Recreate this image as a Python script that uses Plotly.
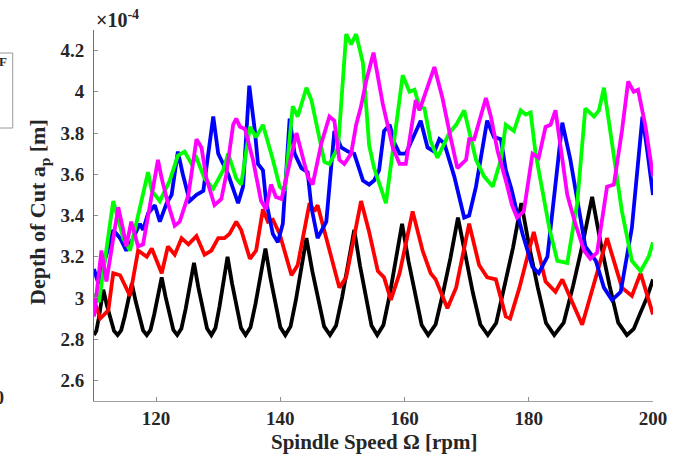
import plotly.graph_objects as go

# Values; y in units of 1e-4 m
black_x = [110.0, 110.375, 110.75, 111.125, 111.5, 112.075, 112.65, 113.225, 113.8,
           114.375, 114.95, 115.525, 116.1, 116.7, 117.3, 117.9, 118.5,
           119.1, 119.7, 120.3, 120.9, 121.525, 122.15, 122.775, 123.4,
           124.075, 124.75, 125.425, 126.1, 126.8, 127.5, 128.2, 128.9,
           129.55, 130.2, 130.85, 131.5, 132.225, 132.95, 133.675, 134.4,
           135.2, 136.0, 136.8, 137.6, 138.4, 139.2, 140.0, 140.8,
           141.65, 142.5, 143.35, 144.2, 145.15, 146.1, 147.05, 148.0,
           148.975, 149.95, 150.925, 151.9, 152.825, 153.75, 154.675, 155.6,
           156.6, 157.6, 158.6, 159.6, 160.65, 161.7, 162.75, 163.8,
           165.0, 166.2, 167.4, 168.6, 169.8, 171.0, 172.2, 173.4,
           174.75, 176.1, 177.45, 178.8, 180.125, 181.45, 182.775, 184.1,
           185.625, 187.15, 188.675, 190.2, 191.6, 193.0, 194.4, 195.8,
           196.9, 198.0, 199.0, 200.0]
black_y = [2.82, 2.840, 2.899, 2.965, 3.04, 2.965, 2.899, 2.840, 2.82,
           2.843, 2.910, 2.985, 3.07, 2.985, 2.910, 2.843, 2.82,
           2.845, 2.921, 3.005, 3.10, 3.005, 2.921, 2.845, 2.82,
           2.852, 2.946, 3.051, 3.17, 3.051, 2.946, 2.852, 2.82,
           2.854, 2.957, 3.071, 3.20, 3.071, 2.957, 2.854, 2.82,
           2.858, 2.971, 3.097, 3.24, 3.097, 2.971, 2.858, 2.82,
           2.862, 2.989, 3.130, 3.29, 3.130, 2.989, 2.862, 2.82,
           2.866, 3.004, 3.157, 3.33, 3.157, 3.004, 2.866, 2.82,
           2.869, 3.014, 3.176, 3.36, 3.176, 3.014, 2.869, 2.82,
           2.871, 3.025, 3.196, 3.39, 3.196, 3.025, 2.871, 2.82,
           2.878, 3.050, 3.242, 3.46, 3.242, 3.050, 2.878, 2.82,
           2.880, 3.061, 3.262, 3.49, 3.262, 3.061, 2.880, 2.82,
           2.850, 2.930, 3.000, 3.09]

red_x = [110.0, 111.0, 112.3, 113.1, 114.2, 115.8, 117.1, 118.5, 119.3, 120.9,
         121.9, 123.0, 124.1, 125.2, 126.5, 127.8, 128.9, 130.0, 131.0, 131.8,
         132.9, 133.7, 135.1, 136.1, 137.2, 138.0, 138.8, 139.9, 141.8, 142.8,
         144.7, 145.5, 146.0, 147.4, 149.5, 150.6, 153.0, 154.3, 155.7, 156.7,
         157.8, 159.2, 161.3, 162.9, 164.2, 165.0, 166.9, 168.3, 170.4, 172.0,
         173.3, 174.7, 176.3, 177.0, 178.5, 180.8, 182.7, 184.3, 185.4, 188.6,
         192.6, 195.0, 196.6, 198.0, 200.0]
red_y = [2.99, 2.90, 2.94, 3.12, 3.11, 3.01, 3.23, 3.20, 3.24, 3.12,
         3.25, 3.21, 3.29, 3.26, 3.30, 3.21, 3.23, 3.29, 3.29, 3.31,
         3.37, 3.33, 3.19, 3.23, 3.43, 3.37, 3.38, 3.31, 3.11, 3.16,
         3.46, 3.42, 3.45, 3.29, 3.05, 3.10, 3.47, 3.32, 3.13, 3.10,
         2.99, 3.12, 3.42, 3.23, 3.12, 3.09, 2.95, 3.05, 3.36, 3.16,
         3.10, 3.09, 2.91, 2.90, 3.05, 3.32, 3.08, 3.03, 3.09, 2.87,
         3.29, 3.05, 3.01, 3.12, 2.92]

blue_x = [110.0, 110.7, 113.1, 114.2, 115.2, 116.3, 117.4, 117.9, 118.7, 119.8,
          120.6, 121.7, 122.5, 123.5, 124.3, 125.4, 126.5, 127.6, 129.2, 130.0,
          130.8, 131.6, 133.2, 134.0, 135.0, 135.9, 136.4, 137.2, 137.7, 138.8,
          139.6, 140.4, 141.5, 142.3, 143.4, 144.4, 145.0, 146.0, 147.4, 148.7,
          149.8, 150.9, 151.9, 153.3, 154.3, 155.1, 155.9, 156.7, 157.6, 158.4,
          159.2, 160.2, 162.6, 163.7, 164.8, 165.6, 166.4, 168.0, 169.6, 170.4,
          171.5, 173.3, 174.4, 175.5, 176.3, 177.2, 177.9, 179.0, 180.6, 181.6,
          183.0, 184.3, 185.4, 186.7, 187.8, 189.1, 190.8, 192.1, 193.4, 194.8,
          196.6, 198.3, 199.1, 200.0]
blue_y = [3.14, 3.07, 3.33, 3.29, 3.23, 3.29, 3.36, 3.33, 3.41, 3.45,
          3.37, 3.46, 3.50, 3.71, 3.60, 3.47, 3.50, 3.52, 3.88, 3.70,
          3.65, 3.60, 3.46, 3.54, 4.03, 3.81, 3.65, 3.62, 3.47, 3.31,
          3.27, 3.36, 3.87, 3.70, 3.63, 3.61, 3.44, 3.29, 3.37, 3.81,
          3.73, 3.71, 3.70, 3.57, 3.55, 3.57, 3.62, 3.81, 3.84, 3.75,
          3.70, 3.70, 3.86, 3.73, 3.71, 3.77, 3.75, 3.59, 3.39, 3.40,
          3.54, 3.86, 3.78, 3.77, 3.62, 3.53, 3.44, 3.31, 3.15, 3.12,
          3.20, 3.54, 3.85, 3.67, 3.47, 3.25, 3.18, 3.05, 2.99, 3.03,
          3.34, 3.88, 3.71, 3.50]

green_x = [110.0, 110.8, 113.1, 114.7, 115.8, 117.1, 118.7, 119.3, 120.6, 122.2,
           123.5, 124.6, 125.7, 126.5, 127.8, 129.2, 130.8, 131.6, 132.9, 133.7,
           135.1, 136.1, 137.2, 138.8, 139.9, 140.7, 142.0, 142.8, 144.2, 145.0,
           147.1, 147.9, 149.3, 150.6, 151.4, 152.2, 153.3, 154.3, 155.1, 157.0,
           159.7, 160.8, 161.6, 162.4, 163.2, 164.2, 165.3, 167.2, 168.3, 169.6,
           170.4, 171.5, 172.8, 174.2, 175.5, 176.3, 177.6, 178.7, 179.5, 180.3,
           181.1, 183.3, 184.6, 186.2, 187.8, 189.1, 190.5, 191.3, 192.1, 193.4,
           195.0, 196.6, 198.0, 199.3, 200.0]
green_y = [3.02, 2.98, 3.47, 3.29, 3.23, 3.41, 3.61, 3.52, 3.47, 3.57,
           3.69, 3.71, 3.65, 3.68, 3.58, 3.53, 3.62, 3.70, 3.58, 3.55,
           3.83, 3.78, 3.84, 3.67, 3.54, 3.52, 3.93, 3.88, 4.02, 3.96,
           3.66, 3.65, 3.73, 4.28, 4.23, 4.28, 4.14, 3.74, 3.63, 3.46,
           4.08, 4.00, 4.01, 3.93, 3.92, 3.76, 3.68, 3.80, 3.84, 3.91,
           3.81, 3.67, 3.59, 3.54, 3.67, 3.84, 3.81, 3.91, 3.89, 3.90,
           3.70, 3.34, 3.18, 3.17, 3.46, 3.92, 3.88, 3.91, 4.02, 3.75,
           3.42, 3.18, 3.13, 3.20, 3.27]

magenta_x = [110.0, 111.2, 112.0, 113.9, 114.7, 115.2, 116.0, 117.1, 117.9, 120.3,
             120.9, 121.9, 123.0, 123.8, 125.2, 126.5, 127.3, 128.1, 129.4, 130.5,
             131.3, 132.4, 132.9, 133.5, 134.3, 135.6, 136.9, 137.7, 138.5, 139.3,
             140.2, 141.2, 142.6, 144.4, 145.2, 146.6, 147.9, 148.7, 149.5, 150.3,
             151.4, 152.2, 153.0, 153.8, 155.0, 156.5, 158.1, 159.2, 160.2, 161.8,
             162.4, 164.8, 166.1, 167.4, 168.5, 169.9, 170.4, 171.2, 173.1, 173.9,
             175.0, 176.3, 177.3, 178.1, 179.2, 180.6, 181.6, 182.7, 183.5, 184.3,
             186.2, 187.5, 188.9, 189.9, 191.0, 192.6, 193.7, 195.0, 196.0, 196.9,
             197.6, 198.8, 200.0]
magenta_y = [2.91, 3.23, 3.08, 3.44, 3.33, 3.25, 3.37, 3.25, 3.26, 3.67,
             3.58, 3.46, 3.35, 3.37, 3.50, 3.77, 3.73, 3.58, 3.45, 3.48,
             3.60, 3.84, 3.87, 3.83, 3.82, 3.67, 3.47, 3.43, 3.55, 3.49,
             3.48, 3.62, 3.80, 3.59, 3.55, 3.75, 3.88, 3.86, 3.67, 3.65,
             3.70, 3.84, 3.93, 4.05, 4.19, 3.94, 3.73, 3.65, 3.65, 3.96,
             3.91, 4.12, 3.97, 3.78, 3.63, 3.67, 3.77, 3.77, 3.97, 3.88,
             3.71, 3.57, 3.45, 3.39, 3.42, 3.70, 3.68, 3.83, 3.84, 3.91,
             3.50, 3.36, 3.23, 3.19, 3.22, 3.54, 3.55, 3.81, 4.05, 4.00,
             4.01, 3.83, 3.59]

x_ticks = [120, 140, 160, 180, 200]
y_ticks = [2.6, 2.8, 3.0, 3.2, 3.4, 3.6, 3.8, 4.0, 4.2]
y_tick_text = ["2.6", "2.8", "3", "3.2", "3.4", "3.6", "3.8", "4", "4.2"]

SERIF = "Liberation Serif, Times New Roman, serif"
LW = 3.8

fig = go.Figure()
for xs, ys, col in [(black_x, black_y, "#000000"),
                    (red_x, red_y, "#ff0000"),
                    (blue_x, blue_y, "#0000ff"),
                    (green_x, green_y, "#00ff00"),
                    (magenta_x, magenta_y, "#ff00ff")]:
    fig.add_trace(go.Scatter(x=xs, y=ys, mode="lines",
                             line=dict(color=col, width=LW),
                             showlegend=False, hoverinfo="skip"))

fig.update_layout(
    width=684, height=457,
    margin=dict(l=94, r=31, t=30, b=56),
    paper_bgcolor="white", plot_bgcolor="white",
    showlegend=False,
    font=dict(family=SERIF, color="#262626"),
)
fig.update_xaxes(range=[110, 200], tickvals=x_ticks, ticks="inside", ticklen=4,
                 tickcolor="#909090", showline=True, linecolor="#a0a0a0", linewidth=1,
                 showgrid=False, zeroline=False, mirror=False,
                 tickfont=dict(family=SERIF, size=19, color="#262626", weight="bold"),
                 ticklabelstandoff=0)
fig.update_yaxes(range=[2.5, 4.3], tickvals=y_ticks, ticktext=y_tick_text,
                 ticks="inside", ticklen=4, tickcolor="#909090",
                 showline=True, linecolor="#707070", linewidth=1,
                 showgrid=False, zeroline=False, mirror=False,
                 tickfont=dict(family=SERIF, size=19, color="#262626", weight="bold"),
                 ticklabelstandoff=5)

annots = [
    dict(text="Spindle Speed Ω [rpm]", x=0.5, y=-0.11, xref="paper", yref="paper",
         xanchor="center", yanchor="middle", showarrow=False,
         font=dict(family=SERIF, size=21, color="#262626", weight="bold")),
    dict(text="Depth of Cut a<sub>p</sub> [m]", x=-0.098, y=0.51, xref="paper", yref="paper",
         xanchor="center", yanchor="middle", textangle=-90, showarrow=False,
         font=dict(family=SERIF, size=22, color="#262626", weight="bold")),
    dict(text="×10<sup>-4</sup>", x=0.0, y=1.0, xref="paper", yref="paper",
         xanchor="left", yanchor="bottom", showarrow=False, yshift=-3,
         font=dict(family=SERIF, size=20, color="#262626", weight="bold")),
    dict(text="F", x=-0.1525, y=0.915, xref="paper", yref="paper",
         xanchor="right", yanchor="middle", showarrow=False,
         font=dict(family=SERIF, size=13, color="#262626", weight="bold")),
    dict(text="0", x=-0.158, y=0.008, xref="paper", yref="paper",
         xanchor="right", yanchor="middle", showarrow=False,
         font=dict(family=SERIF, size=18, color="#262626", weight="bold")),
]
fig.update_layout(annotations=annots)
fig.add_shape(type="rect", xref="paper", yref="paper",
              x0=-0.18, x1=-0.1454, y0=0.7358, y1=0.938,
              line=dict(color="#9a9a9a", width=1), fillcolor="rgba(0,0,0,0)")

fig.write_html("out.html", config={"displayModeBar": False},
               post_script="document.body.style.margin='0';")
